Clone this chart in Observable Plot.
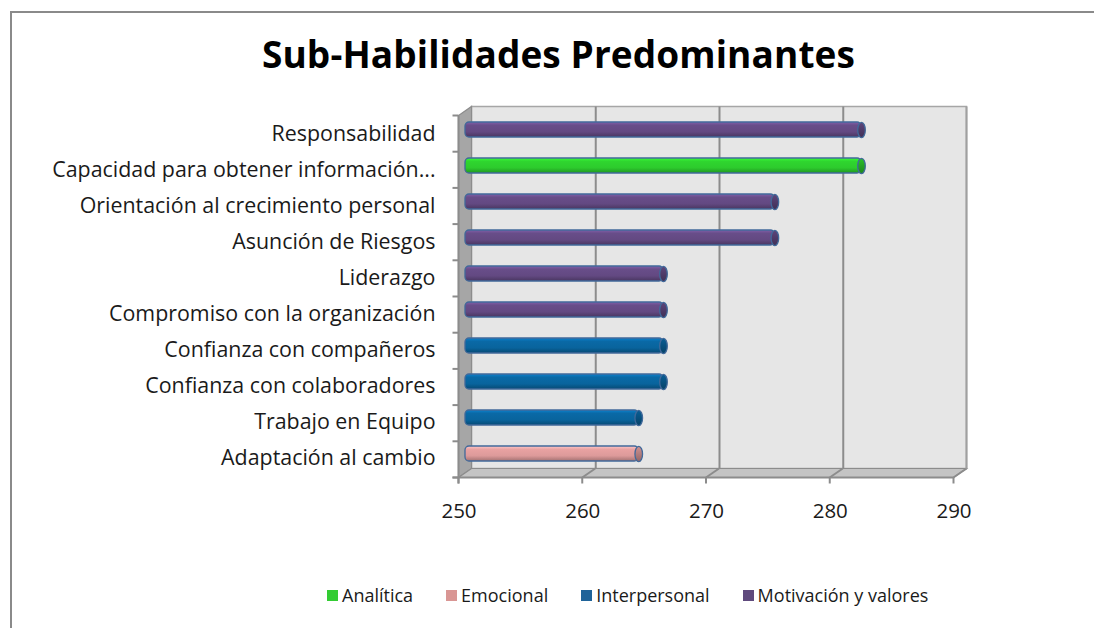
<!DOCTYPE html>
<html><head><meta charset="utf-8">
<script src="https://cdn.jsdelivr.net/npm/d3@7"></script>
<script src="https://cdn.jsdelivr.net/npm/@observablehq/plot@0.6"></script>
<style>
body{margin:0;background:#fff;font-family:"Open Sans",Lato,sans-serif;}
#page{position:relative;width:1094px;height:628px;overflow:hidden;background:#fff;}
#frame{position:absolute;left:10px;top:11px;width:1200px;height:800px;border-left:2px solid #8a8a8a;border-top:2px solid #8a8a8a;box-sizing:border-box;}
#title{position:absolute;top:35px;left:0;width:1117px;text-align:center;font-size:37px;line-height:37px;font-weight:bold;color:#000;letter-spacing:0.1px;}
#chart{position:absolute;top:95px;left:0;}
#legend{position:absolute;top:586px;left:327px;display:flex;align-items:center;gap:33px;font-size:18px;line-height:18px;color:#1a1a1a;}
#legend .item{display:flex;align-items:center;white-space:nowrap;}
#legend .sw{width:11px;height:11px;margin-right:4px;display:inline-block;}
</style>
</head><body>
<div id="page">
  <div id="frame"></div>
  <div id="title">Sub-Habilidades Predominantes</div>
  <div id="chart"></div>
  <div id="legend"></div>
</div>
<script>
// ---- data ----
const categories = [
  "Responsabilidad",
  "Capacidad para obtener información...",
  "Orientación al crecimiento personal",
  "Asunción de Riesgos",
  "Liderazgo",
  "Compromiso con la organización",
  "Confianza con compañeros",
  "Confianza con colaboradores",
  "Trabajo en Equipo",
  "Adaptación al cambio"
];
const values = [282, 282, 275, 275, 266, 266, 266, 266, 264, 264];
const groups = [
  "Motivación y valores", "Analítica", "Motivación y valores", "Motivación y valores",
  "Motivación y valores", "Motivación y valores", "Interpersonal", "Interpersonal",
  "Interpersonal", "Emocional"
];
const seriesNames = ["Analítica", "Emocional", "Interpersonal", "Motivación y valores"];
const seriesColors = ["#2fd62f", "#e9a2a2", "#0a69a6", "#684d89"];
const legendColors = ["#33cc33", "#d99694", "#1f6399", "#5f4a7d"];
const xTicks = [250, 260, 270, 280, 290];
const xDomain = [250, 290];

const data = categories.map((c, i) => ({cat: c, value: values[i], group: groups[i]}));

// ellipse end-cap symbol for the cylinder bars
const capSymbol = {
  draw(ctx) {
    const rx = 3.8, ry = 7.6, k = 0.5523;
    ctx.moveTo(rx, 0);
    ctx.bezierCurveTo(rx, ry * k, rx * k, ry, 0, ry);
    ctx.bezierCurveTo(-rx * k, ry, -rx, ry * k, -rx, 0);
    ctx.bezierCurveTo(-rx, -ry * k, -rx * k, -ry, 0, -ry);
    ctx.bezierCurveTo(rx * k, -ry, rx, -ry * k, rx, 0);
    ctx.closePath();
  }
};

const OX = 6.5, OY = 4.5; // depth offset of the 3D box

const marks = [
  Plot.gridX({ticks: xTicks.slice(1, -1), stroke: "#8c8c8c", strokeOpacity: 1, strokeWidth: 2, dx: OX, dy: -OY}),
  ...seriesNames.flatMap((name, i) => {
    const sub = data.filter(d => d.group === name);
    return [
      Plot.barX(sub, {y: "cat", x1: xDomain[0], x2: "value", fill: `url(#grad${i})`, stroke: "#41699a", strokeWidth: 1.3, rx: 4}),
      Plot.dot(sub, {y: "cat", x: "value", symbol: capSymbol, r: 5, fill: `url(#cap${i})`, stroke: "#41699a", strokeWidth: 1.3})
    ];
  }),
  Plot.axisY({tickSize: 0, dx: -21, dy: OY, fontSize: 21.4, label: null, fill: "#1a1a1a"}),
  Plot.axisX({ticks: xTicks, tickSize: 0, dx: -OX, dy: 21, fontSize: 20.5, label: null, fill: "#1a1a1a", tickFormat: d => String(d)})
];

const chart = Plot.plot({
  width: 1094, height: 430,
  marginLeft: 465, marginRight: 134, marginTop: 16, marginBottom: 52,
  x: {domain: xDomain},
  y: {domain: categories, paddingInner: 0.58, paddingOuter: 0.29},
  style: {fontFamily: "'Open Sans', Lato, sans-serif", background: "transparent", color: "#1a1a1a"},
  marks
});

// ---- 3D box (walls) drawn with the plot's own scales ----
const svg = d3.select(chart);
const X = chart.scale("x"), Y = chart.scale("y");
const sx = d3.scaleLinear(X.domain, X.range);
const [y0, y1] = Y.range;
const n = Y.domain.length, step = (y1 - y0) / n;
const bx = v => sx(v) + OX, fx = v => sx(v) - OX;
const by = y => y - OY, fy = y => y + OY;

const walls = svg.insert("g", ":first-child");
const defs = svg.insert("defs", ":first-child");

seriesColors.forEach((c, i) => {
  const base = d3.color(c);
  const g = defs.append("linearGradient").attr("id", `grad${i}`).attr("x1", 0).attr("y1", 0).attr("x2", 0).attr("y2", 1);
  [[0, base.brighter(0.6)], [0.22, base], [0.65, base.darker(0.15)], [1, base.darker(1.0)]]
    .forEach(([o, col]) => g.append("stop").attr("offset", o).attr("stop-color", col.formatHex()));
  const cg = defs.append("linearGradient").attr("id", `cap${i}`).attr("x1", 0).attr("y1", 0).attr("x2", 0).attr("y2", 1);
  [[0, base.darker(0.3)], [1, base.darker(1.3)]]
    .forEach(([o, col]) => cg.append("stop").attr("offset", o).attr("stop-color", col.formatHex()));
});

const L = xDomain[0], R = xDomain[1];
// back plane
walls.append("rect")
  .attr("x", bx(L)).attr("y", by(y0)).attr("width", bx(R) - bx(L)).attr("height", y1 - y0)
  .attr("fill", "#e6e6e6").attr("stroke", "#a6a6a6").attr("stroke-width", 1.5);
// left wall
walls.append("polygon")
  .attr("points", [[bx(L), by(y0)], [bx(L), by(y1)], [fx(L), fy(y1)], [fx(L), fy(y0)]].map(p => p.join(",")).join(" "))
  .attr("fill", "#a6a6a6").attr("stroke", "#8c8c8c").attr("stroke-width", 1.2);
// floor
walls.append("polygon")
  .attr("points", [[bx(L), by(y1)], [bx(R), by(y1)], [fx(R), fy(y1)], [fx(L), fy(y1)]].map(p => p.join(",")).join(" "))
  .attr("fill", "#c4c4c4").attr("stroke", "#8c8c8c").attr("stroke-width", 1.2);
// floor diagonals for gridlines and right edge
xTicks.slice(1).forEach(v => {
  walls.append("line").attr("x1", bx(v)).attr("y1", by(y1)).attr("x2", fx(v)).attr("y2", fy(y1))
    .attr("stroke", "#8c8c8c").attr("stroke-width", 2);
});
// right back edge
walls.append("line").attr("x1", bx(R)).attr("y1", by(y0)).attr("x2", bx(R)).attr("y2", by(y1))
  .attr("stroke", "#a0a0a0").attr("stroke-width", 2);
// front axis line + ticks
walls.append("line").attr("x1", fx(L) - 6).attr("y1", fy(y1)).attr("x2", fx(R)).attr("y2", fy(y1))
  .attr("stroke", "#8c8c8c").attr("stroke-width", 2);
xTicks.forEach(v => {
  walls.append("line").attr("x1", fx(v)).attr("y1", fy(y1)).attr("x2", fx(v)).attr("y2", fy(y1) + 6)
    .attr("stroke", "#8c8c8c").attr("stroke-width", 2);
});
// left wall ticks at category boundaries
d3.range(n + 1).forEach(k => {
  const yy = fy(y0 + k * step);
  walls.append("line").attr("x1", fx(L) - 6).attr("y1", yy).attr("x2", fx(L)).attr("y2", yy)
    .attr("stroke", "#8c8c8c").attr("stroke-width", 2);
});
walls.append("line").attr("x1", fx(L)).attr("y1", fy(y0)).attr("x2", fx(L)).attr("y2", fy(y1) + 6)
  .attr("stroke", "#8c8c8c").attr("stroke-width", 2);

document.getElementById("chart").appendChild(chart);

// ---- legend ----
const legend = d3.select("#legend");
seriesNames.forEach((name, i) => {
  const it = legend.append("div").attr("class", "item");
  it.append("span").attr("class", "sw").style("background", legendColors[i]);
  it.append("span").text(name);
});
</script>
</body></html>
